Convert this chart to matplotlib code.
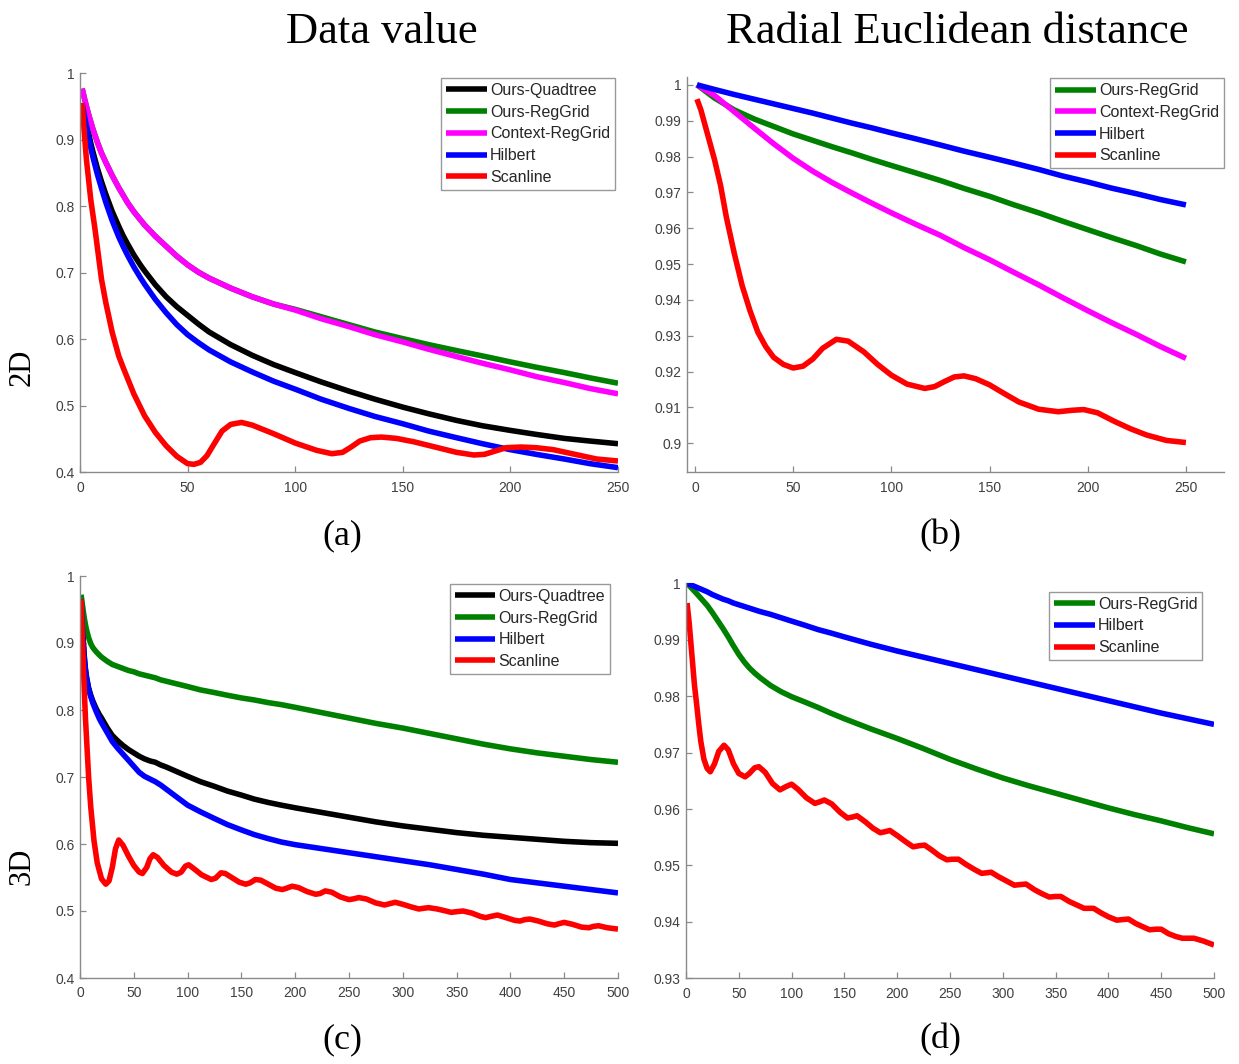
import matplotlib
matplotlib.use("Agg")
import matplotlib.pyplot as plt
from matplotlib.ticker import FuncFormatter

# ---------------- data: panel (a) 2D, data value ----------------
xa = [1, 2, 3, 4, 5, 6, 8, 10, 12, 15, 18, 20, 22, 25, 28, 30, 35, 40, 45, 50, 55, 60, 70, 80, 90, 100,
      112, 125, 137, 150, 162, 175, 187, 200, 212, 225, 237, 250]
a_quadtree = [0.955, 0.94, 0.925, 0.91, 0.895, 0.882, 0.858, 0.837, 0.818, 0.792, 0.77, 0.756, 0.744,
              0.727, 0.712, 0.703, 0.682, 0.664, 0.649, 0.636, 0.623, 0.611, 0.592, 0.576, 0.562, 0.55,
              0.536, 0.522, 0.51, 0.498, 0.488, 0.478, 0.47, 0.463, 0.457, 0.451, 0.447, 0.443]
a_reggrid = [0.977, 0.963, 0.95, 0.938, 0.927, 0.916, 0.897, 0.88, 0.866, 0.846, 0.828, 0.817, 0.806,
             0.792, 0.78, 0.772, 0.755, 0.74, 0.725, 0.712, 0.701, 0.692, 0.677, 0.664, 0.653, 0.645,
             0.634, 0.622, 0.611, 0.601, 0.592, 0.583, 0.575, 0.566, 0.558, 0.55, 0.542, 0.534]
a_context = [0.977, 0.963, 0.95, 0.938, 0.927, 0.916, 0.897, 0.88, 0.866, 0.846, 0.828, 0.817, 0.806,
             0.792, 0.78, 0.772, 0.755, 0.74, 0.725, 0.712, 0.701, 0.692, 0.677, 0.664, 0.653, 0.644,
             0.631, 0.619, 0.607, 0.596, 0.585, 0.574, 0.564, 0.554, 0.544, 0.535, 0.526, 0.518]
a_hilbert = [0.955, 0.937, 0.92, 0.904, 0.888, 0.874, 0.849, 0.827, 0.806, 0.778, 0.754, 0.74, 0.727,
             0.709, 0.693, 0.683, 0.66, 0.64, 0.622, 0.607, 0.595, 0.584, 0.566, 0.551, 0.537, 0.525,
             0.51, 0.496, 0.484, 0.473, 0.462, 0.452, 0.443, 0.434, 0.427, 0.42, 0.413, 0.407]
xa_scan = [1, 2, 3, 5, 7, 10, 12, 15, 18, 20, 25, 30, 35, 40, 45, 50, 53, 56, 59, 62, 66, 70, 75, 80, 90,
           100, 110, 117, 122, 126, 130, 135, 140, 147, 155, 165, 175, 183, 188, 193, 198, 205, 212, 220,
           230, 240, 250]
a_scan = [0.955, 0.91, 0.87, 0.81, 0.765, 0.69, 0.655, 0.61, 0.575, 0.558, 0.518, 0.485, 0.46, 0.44,
          0.424, 0.413, 0.412, 0.415, 0.425, 0.441, 0.462, 0.472, 0.475, 0.471, 0.458, 0.444, 0.433, 0.428,
          0.43, 0.438, 0.447, 0.452, 0.453, 0.451, 0.446, 0.438, 0.43, 0.426, 0.427, 0.432, 0.437, 0.438,
          0.437, 0.434, 0.427, 0.42, 0.417]

# ---------------- data: panel (b) 2D, radial Euclidean distance ----------------
xb = [1, 10, 20, 30, 40, 50, 60, 70, 80, 90, 100, 112, 125, 137, 150, 162, 175, 187, 200, 212, 225, 237, 250]
b_reggrid = [1.0, 0.9963, 0.993, 0.9905, 0.9884, 0.9863, 0.9845, 0.9827, 0.981, 0.9792, 0.9775, 0.9755,
             0.9733, 0.9711, 0.9689, 0.9666, 0.9643, 0.962, 0.9596, 0.9574, 0.9551, 0.9528, 0.9506]
b_context = [1.0, 0.997, 0.9925, 0.988, 0.9836, 0.9795, 0.9759, 0.9727, 0.9698, 0.967, 0.9643, 0.9612,
             0.958, 0.9546, 0.9512, 0.9478, 0.9442, 0.9407, 0.937, 0.9337, 0.9303, 0.927, 0.9237]
b_hilbert = [1.0, 0.9987, 0.9973, 0.996, 0.9947, 0.9934, 0.9921, 0.9907, 0.9893, 0.988, 0.9866, 0.985,
             0.9832, 0.9815, 0.9798, 0.9782, 0.9764, 0.9746, 0.9729, 0.9712, 0.9696, 0.968, 0.9665]
xb_scan = [1, 3, 5, 8, 10, 13, 16, 20, 24, 28, 32, 36, 40, 45, 50, 55, 60, 65, 72, 78, 86, 93, 100, 108,
           117, 122, 127, 132, 137, 143, 150, 158, 165, 175, 185, 192, 198, 205, 214, 222, 230, 240, 250]
b_scan = [0.996, 0.993, 0.989, 0.983, 0.979, 0.972, 0.963, 0.953, 0.944, 0.937, 0.931, 0.927, 0.924, 0.922,
          0.921, 0.9215, 0.9235, 0.9265, 0.929, 0.9285, 0.9255, 0.922, 0.919, 0.9165, 0.9153, 0.9158, 0.9172,
          0.9185, 0.9188, 0.918, 0.9163, 0.9137, 0.9115, 0.9095, 0.9088, 0.9092, 0.9094, 0.9085, 0.906,
          0.904, 0.9023, 0.9008, 0.9002]

# ---------------- data: panel (c) 3D, data value ----------------
xc = [1, 2, 3, 4, 5, 6, 8, 10, 12, 15, 18, 20, 25, 30, 35, 40, 45, 50, 55, 60, 65, 70, 75, 80, 90, 100,
      112, 125, 137, 150, 162, 175, 187, 200, 225, 250, 275, 300, 325, 350, 375, 400, 425, 450, 475, 500]
c_quadtree = [0.97, 0.935, 0.905, 0.88, 0.862, 0.85, 0.833, 0.822, 0.813, 0.802, 0.793, 0.788, 0.774,
              0.762, 0.754, 0.747, 0.741, 0.736, 0.731, 0.727, 0.724, 0.722, 0.718, 0.715, 0.708, 0.701,
              0.693, 0.686, 0.679, 0.673, 0.667, 0.662, 0.658, 0.654, 0.647, 0.64, 0.633, 0.627, 0.622,
              0.617, 0.613, 0.61, 0.607, 0.604, 0.602, 0.601]
c_reggrid = [0.972, 0.96, 0.948, 0.937, 0.928, 0.92, 0.908, 0.899, 0.893, 0.887, 0.882, 0.879, 0.873,
             0.868, 0.865, 0.862, 0.859, 0.857, 0.854, 0.852, 0.85, 0.848, 0.845, 0.843, 0.839, 0.835,
             0.83, 0.826, 0.822, 0.818, 0.815, 0.811, 0.808, 0.804, 0.796, 0.788, 0.78, 0.773, 0.765,
             0.757, 0.749, 0.742, 0.736, 0.731, 0.726, 0.722]
c_hilbert = [0.965, 0.93, 0.9, 0.877, 0.86, 0.848, 0.831, 0.82, 0.81, 0.798, 0.787, 0.781, 0.767, 0.753,
             0.743, 0.734, 0.725, 0.716, 0.707, 0.701, 0.697, 0.693, 0.688, 0.682, 0.67, 0.658, 0.648,
             0.638, 0.629, 0.621, 0.614, 0.608, 0.603, 0.599, 0.593, 0.587, 0.581, 0.575, 0.569, 0.562,
             0.555, 0.547, 0.542, 0.537, 0.532, 0.527]
xc_scan = [1, 3, 5, 8, 10, 13, 16, 20, 24, 27, 30, 33, 36, 40, 45, 50, 55, 58, 62, 65, 68, 72, 78, 85, 90,
           94, 98, 101, 106, 113, 122, 126, 131, 135, 142, 148, 154, 158, 163, 168, 175, 182, 188, 192, 197,
           203, 211, 219, 223, 228, 234, 242, 250, 254, 259, 266, 275, 283, 288, 293, 300, 308, 315, 319,
           324, 332, 340, 345, 350, 356, 364, 372, 377, 382, 388, 396, 404, 409, 413, 418, 426, 434, 441,
           445, 450, 458, 466, 473, 477, 482, 490, 500]
c_scan = [0.965, 0.87, 0.79, 0.70, 0.655, 0.605, 0.572, 0.548, 0.54, 0.545, 0.565, 0.593, 0.606, 0.598,
          0.582, 0.568, 0.558, 0.556, 0.565, 0.578, 0.584, 0.58, 0.568, 0.558, 0.555, 0.558, 0.567, 0.569,
          0.563, 0.554, 0.547, 0.549, 0.557, 0.556, 0.549, 0.543, 0.54, 0.542, 0.547, 0.546, 0.54, 0.534,
          0.532, 0.534, 0.537, 0.535, 0.529, 0.525, 0.526, 0.53, 0.528, 0.521, 0.517, 0.518, 0.52, 0.518,
          0.512, 0.509, 0.511, 0.513, 0.51, 0.506, 0.503, 0.504, 0.505, 0.503, 0.5, 0.498, 0.499, 0.5,
          0.497, 0.492, 0.49, 0.492, 0.494, 0.49, 0.486, 0.485, 0.487, 0.488, 0.485, 0.481, 0.479, 0.481,
          0.483, 0.48, 0.476, 0.475, 0.477, 0.478, 0.475, 0.473]

# ---------------- data: panel (d) 3D, radial Euclidean distance ----------------
xd = [1, 10, 20, 25, 30, 35, 40, 45, 50, 55, 60, 65, 70, 80, 90, 100, 112, 125, 137, 150, 175, 200, 225,
      250, 275, 300, 325, 350, 375, 400, 425, 450, 475, 500]
d_reggrid = [1.0, 0.9982, 0.9961, 0.9948, 0.9934, 0.992, 0.9905, 0.9889, 0.9874, 0.9861, 0.985, 0.9841,
             0.9833, 0.9819, 0.9808, 0.9799, 0.979, 0.978, 0.977, 0.976, 0.9742, 0.9725, 0.9707, 0.9688,
             0.9671, 0.9655, 0.9641, 0.9628, 0.9615, 0.9602, 0.959, 0.9579, 0.9567, 0.9556]
d_hilbert = [1.0, 0.9993, 0.9985, 0.998, 0.9976, 0.9972, 0.9969, 0.9965, 0.9962, 0.9959, 0.9956, 0.9953,
             0.995, 0.9945, 0.9939, 0.9933, 0.9926, 0.9918, 0.9912, 0.9905, 0.9892, 0.988, 0.9869, 0.9858,
             0.9847, 0.9836, 0.9825, 0.9814, 0.9803, 0.9792, 0.9781, 0.977, 0.976, 0.975]
xd_scan = [1, 3, 6, 8, 10, 12, 14, 17, 20, 23, 27, 31, 36, 40, 45, 50, 56, 60, 65, 69, 75, 82, 89, 95, 100,
           106, 114, 122, 127, 131, 138, 146, 153, 158, 162, 170, 177, 184, 189, 193, 200, 208, 215, 221,
           226, 233, 240, 247, 252, 258, 265, 273, 280, 285, 289, 296, 304, 311, 316, 322, 330, 337, 344,
           350, 355, 363, 370, 377, 386, 393, 400, 408, 413, 419, 426, 433, 439, 445, 450, 457, 464, 470,
           481, 490, 500]
d_scan = [0.9965, 0.993, 0.9864, 0.982, 0.9787, 0.9752, 0.972, 0.9688, 0.9672, 0.9666, 0.968, 0.9702,
          0.9713, 0.9705, 0.968, 0.9663, 0.9657, 0.9663, 0.9673, 0.9675, 0.9665, 0.9645, 0.9634, 0.964,
          0.9644, 0.9635, 0.962, 0.961, 0.9613, 0.9616, 0.9609, 0.9594, 0.9584, 0.9586, 0.9588, 0.9577,
          0.9566, 0.9558, 0.956, 0.9562, 0.9553, 0.9542, 0.9533, 0.9535, 0.9536, 0.9527, 0.9517, 0.951,
          0.9511, 0.9511, 0.9502, 0.9493, 0.9486, 0.9487, 0.9488, 0.948, 0.9472, 0.9465, 0.9466, 0.9467,
          0.9457, 0.945, 0.9444, 0.9445, 0.9445, 0.9436, 0.943, 0.9424, 0.9424, 0.9416, 0.9409, 0.9403,
          0.9404, 0.9405, 0.9397, 0.9391, 0.9386, 0.9387, 0.9387, 0.9379, 0.9374, 0.9371, 0.9371, 0.9366,
          0.9359]

col_titles = ["Data value", "Radial Euclidean distance"]
row_titles = ["2D", "3D"]
sub_labels = ["(a)", "(b)", "(c)", "(d)"]

C_QT, C_RG, C_CX, C_HB, C_SC = "#000000", "#008000", "#ff00ff", "#0000ff", "#ff0000"
LW = 4.0

W, H = 1239, 1064
fig = plt.figure(figsize=(W / 100, H / 100), dpi=100)
plt.rcParams["font.family"] = ["Liberation Sans", "DejaVu Sans"]


def px_axes(left, top, right, bottom):
    return fig.add_axes([left / W, 1 - bottom / H, (right - left) / W, (bottom - top) / H])


def style(ax, xlim, ylim, xticks, yticks):
    ax.set_xlim(*xlim)
    ax.set_ylim(*ylim)
    ax.set_xticks(xticks)
    ax.set_yticks(yticks)
    fmt = FuncFormatter(lambda v, p: "%g" % round(v, 4))
    ax.xaxis.set_major_formatter(fmt)
    ax.yaxis.set_major_formatter(fmt)
    for s in ["top", "right"]:
        ax.spines[s].set_visible(False)
    for s in ["left", "bottom"]:
        ax.spines[s].set_color("#8a8a8a")
        ax.spines[s].set_linewidth(1.0)
    ax.tick_params(direction="in", length=4, width=0.9, color="#8a8a8a",
                   labelsize=10, labelcolor="#404040")
    ax.tick_params(axis="x", pad=6)
    ax.tick_params(axis="y", pad=4)


def legend(ax, anchor):
    leg = ax.legend(loc="upper right", bbox_to_anchor=anchor, borderaxespad=0,
                    fontsize=11.5, frameon=True, fancybox=False, framealpha=1,
                    edgecolor="#999999", handlelength=2.55, handletextpad=0.2,
                    borderpad=0.3, labelspacing=0.42)
    leg.get_frame().set_linewidth(1.0)
    for t in leg.get_texts():
        t.set_color("#262626")


kw = dict(lw=LW, solid_joinstyle="round", solid_capstyle="butt")

# (a)
ax = px_axes(80, 73.3, 618, 472.3)
ax.plot(xa, a_quadtree, color=C_QT, label="Ours-Quadtree", **kw)
ax.plot(xa, a_reggrid, color=C_RG, label="Ours-RegGrid", **kw)
ax.plot(xa, a_context, color=C_CX, label="Context-RegGrid", **kw)
ax.plot(xa, a_hilbert, color=C_HB, label="Hilbert", **kw)
ax.plot(xa_scan, a_scan, color=C_SC, label="Scanline", **kw)
style(ax, (0, 250), (0.4, 1.0), range(0, 251, 50), [0.4, 0.5, 0.6, 0.7, 0.8, 0.9, 1.0])
legend(ax, (0.9944, 0.9875))

# (b)
ax = px_axes(687, 77.3, 1224, 472.3)
ax.plot(xb, b_reggrid, color=C_RG, label="Ours-RegGrid", **kw)
ax.plot(xb, b_context, color=C_CX, label="Context-RegGrid", **kw)
ax.plot(xb, b_hilbert, color=C_HB, label="Hilbert", **kw)
ax.plot(xb_scan, b_scan, color=C_SC, label="Scanline", **kw)
style(ax, (-4.07, 269.4), (0.8919, 1.0021), range(0, 251, 50),
      [0.9, 0.91, 0.92, 0.93, 0.94, 0.95, 0.96, 0.97, 0.98, 0.99, 1.0])
legend(ax, (1.0, 0.997))

# (c)
ax = px_axes(80, 576, 618, 978)
ax.plot(xc, c_quadtree, color=C_QT, label="Ours-Quadtree", **kw)
ax.plot(xc, c_reggrid, color=C_RG, label="Ours-RegGrid", **kw)
ax.plot(xc, c_hilbert, color=C_HB, label="Hilbert", **kw)
ax.plot(xc_scan, c_scan, color=C_SC, label="Scanline", **kw)
style(ax, (0, 500), (0.4, 1.0), range(0, 501, 50), [0.4, 0.5, 0.6, 0.7, 0.8, 0.9, 1.0])
legend(ax, (0.985, 0.980))

# (d)
ax = px_axes(686, 583.3, 1214, 978.3)
ax.plot(xd, d_reggrid, color=C_RG, label="Ours-RegGrid", **kw)
ax.plot(xd, d_hilbert, color=C_HB, label="Hilbert", **kw)
ax.plot(xd_scan, d_scan, color=C_SC, label="Scanline", **kw)
style(ax, (0, 500), (0.93, 1.0), range(0, 501, 50), [0.93, 0.94, 0.95, 0.96, 0.97, 0.98, 0.99, 1.0])
legend(ax, (0.978, 0.978))

serif = ["Liberation Serif", "DejaVu Serif"]
fig.text(381.5 / W, 1 - 43 / H, col_titles[0], ha="center", va="baseline", fontsize=32, family=serif)
fig.text(957 / W, 1 - 43 / H, col_titles[1], ha="center", va="baseline", fontsize=32, family=serif)
fig.text(22 / W, 1 - 367 / H, row_titles[0], ha="center", va="center", rotation=90, fontsize=22, family=serif)
fig.text(22 / W, 1 - 866 / H, row_titles[1], ha="center", va="center", rotation=90, fontsize=22, family=serif)
for (cx, cy), lab in zip([(342, 536), (940, 536), (342, 1040), (940, 1040)], sub_labels):
    fig.text(cx / W, 1 - cy / H, lab, ha="center", va="center", fontsize=26, family=serif)

fig.savefig("out.png", dpi=100)
